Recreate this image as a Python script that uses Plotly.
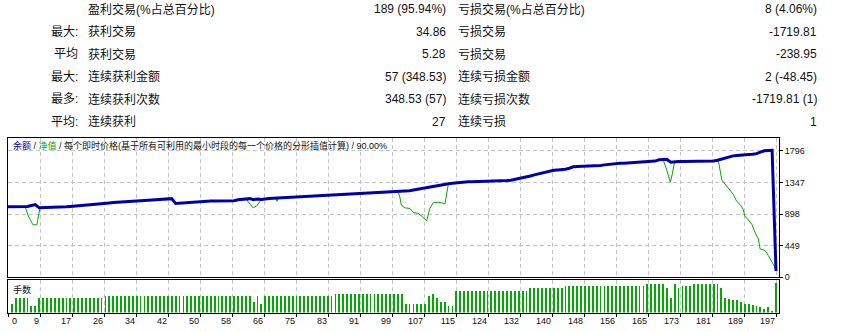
import plotly.graph_objects as go

# ---------------- data ----------------
balance = [
    1000, 1001, 1002, 1003, 1004, 1006, 1019, 1033, 986, 987,
    988, 989, 990, 991, 995, 1000, 1005, 1011, 1017, 1024,
    1028, 1033, 1038, 1042, 1047, 1052, 1056, 1061, 1066, 1071,
    1076, 1080, 1083, 1086, 1089, 1092, 1095, 1099, 1103, 1106,
    1110, 1113, 1117, 1047, 1051, 1055, 1059, 1066, 1073, 1080,
    1084, 1084, 1085, 1085, 1086, 1086, 1087, 1087, 1088, 1100,
    1108, 1113, 1117, 1103, 1110, 1105, 1117, 1119, 1122, 1125,
    1128, 1131, 1134, 1138, 1141, 1144, 1147, 1150, 1152, 1155,
    1157, 1159, 1161, 1164, 1166, 1168, 1171, 1173, 1176, 1178,
    1181, 1183, 1186, 1189, 1192, 1195, 1199, 1202, 1206, 1210,
    1213, 1216, 1222, 1229, 1239, 1250, 1257, 1270, 1281, 1290,
    1295, 1310, 1319, 1330, 1335, 1342, 1348, 1353, 1356, 1357,
    1358, 1359, 1360, 1362, 1364, 1365, 1366, 1368, 1376, 1380,
    1390, 1402, 1415, 1428, 1440, 1455, 1470, 1485, 1495, 1510,
    1522, 1526, 1530, 1535, 1550, 1570, 1576, 1577, 1578, 1579,
    1580, 1581, 1590, 1598, 1605, 1612, 1618, 1620, 1622, 1625,
    1630, 1632, 1635, 1638, 1645, 1650, 1652, 1670, 1678, 1678,
    1636, 1645, 1646, 1647, 1648, 1648, 1649, 1649, 1650, 1650,
    1651, 1652, 1664, 1680, 1700, 1715, 1726, 1732, 1740, 1744,
    1746, 1748, 1758, 1780, 1798, 1803, 1806, 86,
]

# equity drawdowns (trade position, equity) where equity departs from balance
dip1_x = [4.4, 5.2, 6.1, 6.4, 7.4, 7.8, 8.2]
dip1_y = [1004, 870, 776, 744, 744, 846, 986]
dip2_x = [61.2, 61.6, 62.9, 63.8, 65.0]
dip2_y = [1114, 1070, 986, 1014, 1105]
dip3_x = [68.6, 69.0, 69.4]
dip3_y = [1124, 1080, 1126]
dip4_x = [100.1, 100.5, 100.9, 101.8, 103.1, 103.9, 105.2, 106.1, 107.0, 107.4,
          108.2, 109.1, 110.3, 111.6, 112.1, 112.9, 113.3]
dip4_y = [1213, 1141, 1024, 986, 977, 921, 907, 870, 822, 800,
          977, 1061, 1066, 1057, 1047, 1305, 1332]
dip5_x = [168.0, 168.9, 169.3, 169.9, 170.4, 171.0]
dip5_y = [1678, 1538, 1445, 1351, 1468, 1645]
dip6_x = [182.2, 183.1, 184.8, 186.1, 186.9, 187.8, 188.6, 189.0, 189.9, 190.8,
          191.6, 192.5, 192.9, 194.2, 195.0, 195.9, 196.8, 197.0]
dip6_y = [1664, 1384, 1267, 1173, 1080, 1033, 963, 870, 814, 752,
          636, 542, 401, 379, 309, 215, 130, 86]

lots = [
    0.07, 0.10, 0.10, 0.10, 0.10, 0.06, 0.06, 0.10, 0.10, 0.10,
    0.10, 0.10, 0.10, 0.10, 0.10, 0.10, 0.10, 0.10, 0.10, 0.10,
    0.10, 0.10, 0.10, 0.10, 0.11, 0.11, 0.11, 0.11, 0.11, 0.11,
    0.11, 0.11, 0.11, 0.11, 0.11, 0.11, 0.11, 0.11, 0.11, 0.11,
    0.11, 0.11, 0.11, 0.11, 0.11, 0.11, 0.11, 0.11, 0.11, 0.11,
    0.11, 0.11, 0.11, 0.11, 0.11, 0.11, 0.11, 0.11, 0.11, 0.11,
    0.11, 0.11, 0.08, 0.11, 0.07, 0.11, 0.11, 0.11, 0.11, 0.11,
    0.11, 0.11, 0.11, 0.11, 0.11, 0.11, 0.11, 0.11, 0.11, 0.11,
    0.11, 0.11, 0.11, 0.12, 0.12, 0.12, 0.12, 0.12, 0.12, 0.12,
    0.12, 0.12, 0.12, 0.12, 0.12, 0.12, 0.12, 0.12, 0.12, 0.12,
    0.12, 0.07, 0.07, 0.07, 0.07, 0.07, 0.07, 0.11, 0.12, 0.10,
    0.08, 0.08, 0.06, 0.06, 0.135, 0.135, 0.135, 0.135, 0.135, 0.135,
    0.135, 0.135, 0.135, 0.135, 0.135, 0.135, 0.135, 0.135, 0.135, 0.135,
    0.135, 0.135, 0.135, 0.15, 0.15, 0.15, 0.15, 0.15, 0.15, 0.15,
    0.15, 0.15, 0.16, 0.16, 0.16, 0.16, 0.16, 0.16, 0.16, 0.16,
    0.16, 0.16, 0.16, 0.16, 0.16, 0.16, 0.16, 0.16, 0.16, 0.16,
    0.16, 0.16, 0.16, 0.17, 0.17, 0.17, 0.17, 0.17, 0.15, 0.10,
    0.17, 0.15, 0.16, 0.16, 0.16, 0.17, 0.17, 0.17, 0.17, 0.17,
    0.17, 0.17, 0.15, 0.10, 0.095, 0.09, 0.09, 0.08, 0.07, 0.07,
    0.065, 0.06, 0.055, 0.045, 0.055, 0.035, 0.175,
]

x_tick_labels = ["0", "9", "17", "26", "34", "42", "50", "58", "66", "75", "83", "91", "99",
                 "107", "115", "124", "132", "140", "148", "156", "165", "173", "181", "189", "197"]
y_tick_vals = [0, 449, 898, 1347, 1796]

row_prefix = ["", "最大:", "平均", "最大:", "最多:", "平均:"]
left_labels = ["盈利交易(%占总百分比)", "获利交易", "获利交易", "连续获利金额", "连续获利次数", "连续获利"]
left_values = ["189 (95.94%)", "34.86", "5.28", "57 (348.53)", "348.53 (57)", "27"]
right_labels = ["亏损交易(%占总百分比)", "亏损交易", "亏损交易", "连续亏损金额", "连续亏损次数", "连续亏损"]
right_values = ["8 (4.06%)", "-1719.81", "-238.95", "2 (-48.45)", "-1719.81 (1)", "1"]

chart_title_parts = ["余额", "净值", "每个即时价格(基于所有可利用的最小时段的每一个价格的分形插值计算)", "90.00%"]
volume_label = "手数"

# ---------------- build equity from balance + drawdowns ----------------
dips = [(dip1_x, dip1_y), (dip2_x, dip2_y), (dip3_x, dip3_y),
        (dip4_x, dip4_y), (dip5_x, dip5_y), (dip6_x, dip6_y)]
pts = []
for i, b in enumerate(balance):
    if not any(dx[0] <= i <= dx[-1] for dx, _ in dips):
        pts.append((i, b))
for dx, dy in dips:
    pts += list(zip(dx, dy))
pts.sort()
eq_x = [p[0] for p in pts]
eq_y = [p[1] for p in pts]

# ---------------- layout helpers ----------------
W, H = 842, 332
def py(ypx):
    return 1 - ypx / H

n_trades = len(balance) - 1
x_left, x_right, x_last = 8, 779, 776
x_max = n_trades * (x_right - x_left) / (x_last - x_left)
tick_pos = [k * n_trades / (len(x_tick_labels) - 1) for k in range(len(x_tick_labels))]

FONT = "Liberation Sans, Noto Sans CJK SC, sans-serif"
BLUE = "#0000aa"
GREEN = "#00aa00"
GRID = "#c4c4c4"

fig = go.Figure()
fig.add_trace(go.Scatter(x=eq_x, y=eq_y, mode="lines", line=dict(color=GREEN, width=1),
                         xaxis="x", yaxis="y", hoverinfo="skip"))
fig.add_trace(go.Scatter(x=list(range(len(balance))), y=balance, mode="lines",
                         line=dict(color=BLUE, width=3), xaxis="x", yaxis="y", hoverinfo="skip"))
fig.add_trace(go.Bar(x=list(range(1, len(lots) + 1)), y=lots, width=0.22,
                     marker=dict(color=GREEN, line=dict(width=0)),
                     xaxis="x2", yaxis="y2", hoverinfo="skip"))

dom_x = [x_left / W, x_right / W]
common_x = dict(domain=dom_x, range=[0, x_max], tickvals=tick_pos, showgrid=True,
                gridcolor=GRID, griddash="4px,3px", gridwidth=1, zeroline=False,
                showline=True, linecolor="black", linewidth=1, mirror=True)

fig.update_layout(
    width=W, height=H, margin=dict(l=0, r=0, t=0, b=0),
    paper_bgcolor="white", plot_bgcolor="white", showlegend=False,
    font=dict(family=FONT, size=11, color="#111111"),
    xaxis=dict(**common_x, anchor="y", showticklabels=False, ticks=""),
    yaxis=dict(domain=[py(281.3), py(140.3)], range=[0, 1978], side="right",
               tickvals=y_tick_vals, ticks="outside", ticklen=3, tickcolor="black",
               tickfont=dict(size=9, color="#111111"), showgrid=True, gridcolor=GRID,
               griddash="4px,3px", zeroline=False, showline=True, linecolor="black",
               linewidth=1, mirror=True, anchor="x"),
    xaxis2=dict(**common_x, anchor="y2", ticktext=[""] + x_tick_labels[1:],
                ticks="outside", ticklen=3, tickcolor="black",
                ticklabelposition="outside left",
                tickfont=dict(size=9, color="#111111")),
    yaxis2=dict(domain=[py(317.3), py(284)], range=[0.0235, 0.19], showticklabels=False,
                showgrid=False, zeroline=False, showline=True, linecolor="black",
                linewidth=1, mirror=True, anchor="x2"),
    bargap=0,
)

ann = []
row_y = [9.3, 32.2, 55.1, 78.0, 100.9, 123.8]
for r in range(len(left_labels)):
    yp = py(row_y[r])
    if row_prefix[r]:
        ann.append(dict(x=80 / W, y=yp, text=row_prefix[r], xanchor="right"))
    ann.append(dict(x=86 / W, y=yp, text=left_labels[r], xanchor="left"))
    ann.append(dict(x=448 / W, y=yp, text=left_values[r], xanchor="right"))
    ann.append(dict(x=456 / W, y=yp, text=right_labels[r], xanchor="left"))
    ann.append(dict(x=819 / W, y=yp, text=right_values[r], xanchor="right"))
for a in ann:
    a.update(xref="paper", yref="paper", yanchor="middle", showarrow=False,
             font=dict(family=FONT, size=12, color="#111111"), xshift=0)

title_html = (f'<span style="color:{BLUE}">{chart_title_parts[0]}</span> / '
              f'<span style="color:{GREEN}">{chart_title_parts[1]}</span> / '
              f'{chart_title_parts[2]} / {chart_title_parts[3]}')
ann.append(dict(xref="paper", yref="paper", x=11 / W, y=py(147.3), text=title_html,
                xanchor="left", yanchor="middle", showarrow=False,
                font=dict(family=FONT, size=9, color="#111111")))
ann.append(dict(xref="paper", yref="paper", x=11 / W, y=py(293.5), text=volume_label,
                xanchor="left", yanchor="middle", showarrow=False,
                font=dict(family=FONT, size=9, color="#111111")))
ann.append(dict(xref="paper", yref="paper", x=10 / W, y=py(326), text=x_tick_labels[0],
                xanchor="left", yanchor="middle", showarrow=False,
                font=dict(family=FONT, size=9, color="#111111")))
fig.update_layout(annotations=ann)

fig.write_html("out.html")
